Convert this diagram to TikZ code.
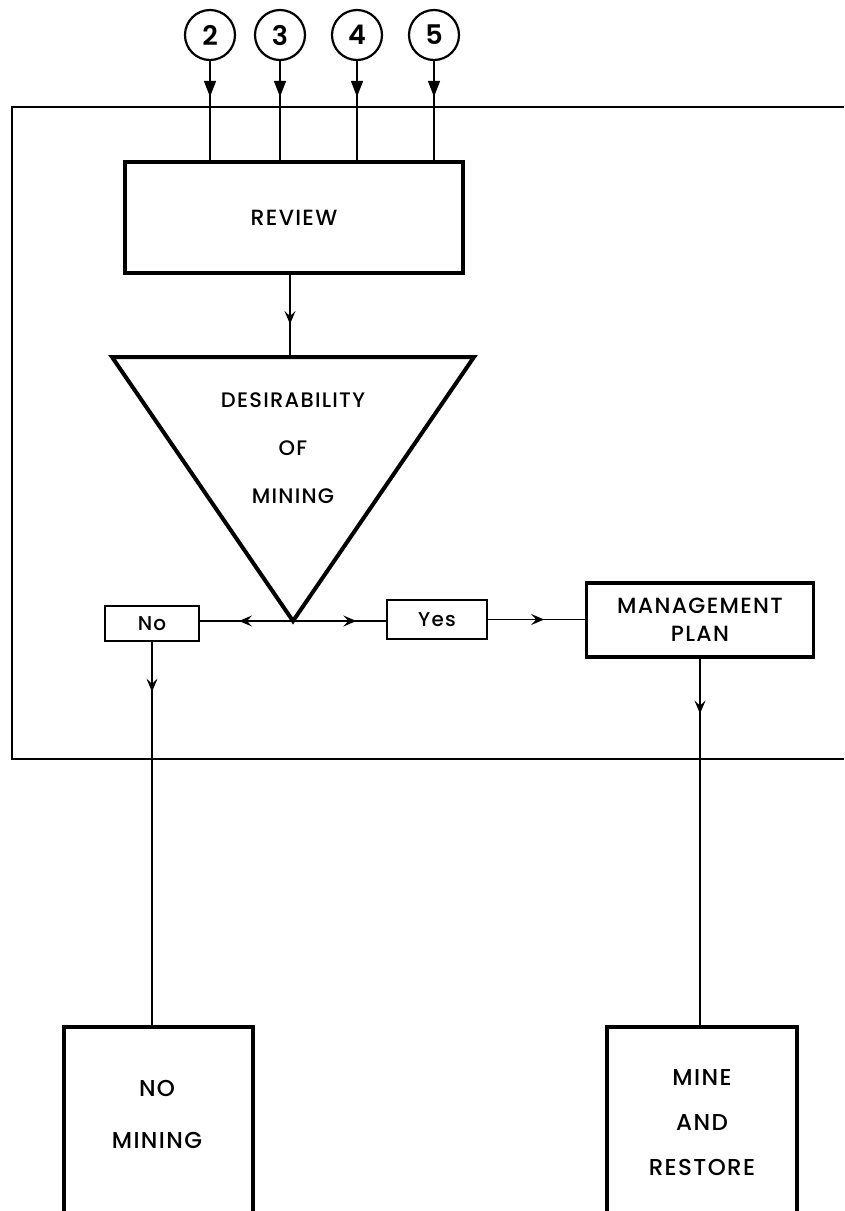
\documentclass[tikz,border=0pt]{standalone}
\usepackage{fontspec}
\setmainfont{Poppins}[UprightFont={* Medium}, BoldFont={* SemiBold}, LetterSpace=6]
\usetikzlibrary{arrows.meta,decorations.markings}
\tikzset{
  heavybox/.style={draw, line width=3.2pt, inner sep=0pt, align=center},
  tagbox/.style={draw, line width=1.7pt, inner sep=0pt, font=\fontsize{20}{22}\selectfont},
  source/.style={circle, draw, line width=2.2pt, minimum size=50pt, inner sep=0pt,
                 font=\fontsize{27}{29}\selectfont\bfseries},
  caption/.style={align=center, inner sep=0pt},
  link/.style={line width=1.5pt},
  feed/.style={link, postaction=decorate, decoration={markings,
      mark=at position #1 with {\arrow{Triangle[length=16pt,width=12pt]}}}},
  flow/.style={link, postaction=decorate, decoration={markings,
      mark=at position #1 with {\arrow{Stealth[length=13pt,width=11pt,inset=5pt]}}}},
  frameline/.style={line width=2pt},
}
\begin{document}
\begin{tikzpicture}[x=1pt,y=-1pt]
\useasboundingbox (0,0) rectangle (844,1211);
\clip (0,0) rectangle (844,1211);

% enclosing frame, open to the right
\draw[frameline] (844,107) -- (12,107) -- (12,759) -- (844,759);

% numbered inputs
\node[source] (s2) at (210,35) {2};
\node[source] (s3) at (280,35) {3};
\node[source] (s4) at (357,35) {4};
\node[source] (s5) at (434,35) {5};

% review
\node[heavybox, minimum width=338pt, minimum height=111pt,
      font=\fontsize{22}{24}\selectfont] (review) at (294,217.5) {REVIEW};

\foreach \s in {s2,s3,s4,s5}
  \draw[feed=0.36] (\s) -- (\s |- review.north);

% decision triangle
\coordinate (tl) at (112,357);
\coordinate (tr) at (474,357);
\coordinate (apex) at (293,621);
\coordinate (tritop) at (290,357);
\draw[line width=4pt, line join=miter] (tl) -- (tr) -- (apex) -- cycle;
\node[caption, font=\fontsize{21}{48}\selectfont] (desir) at (293,448)
  {DESIRABILITY\\OF\\MINING};

\draw[flow=0.6] (review.south -| tritop) -- (tritop);

% outcomes
\node[tagbox, minimum width=94pt, minimum height=35pt] (no) at (152,623.5) {No};
\node[tagbox, minimum width=100pt, minimum height=39pt] (yes) at (437,619.5) {Yes};
\node[heavybox, minimum width=227pt, minimum height=74pt,
      font=\fontsize{22}{28}\selectfont] (mgmt) at (700,620) {MANAGEMENT\\PLAN};

\draw[flow=0.58] (apex) -- (apex -| no.east);
\draw[flow=0.68] (apex) -- (apex -| yes.west);
\draw[flow=0.58] (yes.east) -- (yes.east -| mgmt.west);

% final results, running off the bottom edge
\node[heavybox, line width=3.8pt, minimum width=189pt, minimum height=200pt] (nomine) at (158.5,1127) {};
\node[heavybox, line width=3.8pt, minimum width=190pt, minimum height=200pt] (mine) at (702,1127) {};
\node[caption, font=\fontsize{23}{52}\selectfont] (nominetext) at (157,1114) {NO\\MINING};
\node[caption, font=\fontsize{23}{45}\selectfont] (minetext) at (702,1123) {MINE\\AND\\RESTORE};

\draw[flow=0.13] (no.south) -- (no.south |- nomine.north);
\draw[flow=0.15] (mgmt.south) -- (mgmt.south |- mine.north);
\end{tikzpicture}
\end{document}
